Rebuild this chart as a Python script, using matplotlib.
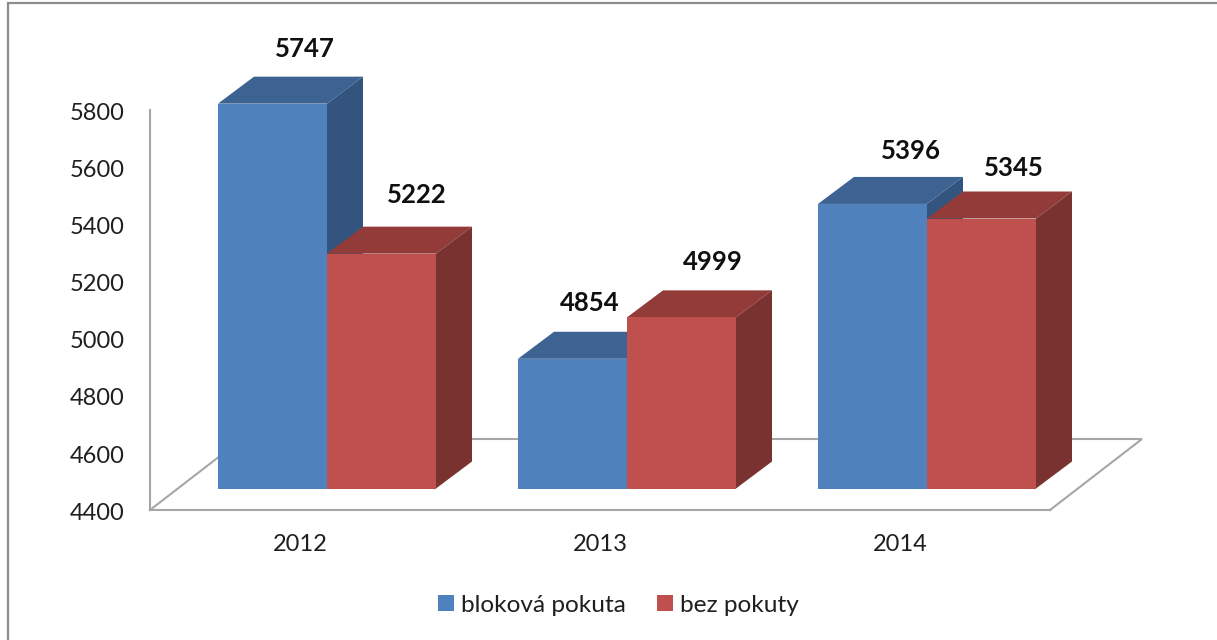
import matplotlib
matplotlib.use("Agg")
import matplotlib.pyplot as plt
from matplotlib.lines import Line2D
from matplotlib.patches import Patch, Polygon
from matplotlib.transforms import Affine2D

plt.rcParams['font.family'] = ['Lato', 'DejaVu Sans']

years = ["2012", "2013", "2014"]
blokova = [5747, 4854, 5396]
bez_pokuty = [5222, 4999, 5345]
series_names = ["bloková pokuta", "bez pokuty"]
y_ticks = [4400, 4600, 4800, 5000, 5200, 5400, 5600, 5800]
# label offsets from the top of the front face, in pixels
blok_label_off = [(32, 55), (17, 56), (38, 53)]
bez_label_off = [(35, 59), (31, 55), (32, 50)]

W, H = 1217, 640
fig = plt.figure(figsize=(W / 100, H / 100), dpi=100, facecolor="white")
ax = fig.add_axes([150 / W, 1 - 510 / H, 900 / W, 400 / H])
ax.set_xlim(-0.5, 2.5)
ax.set_ylim(4400, 5800)
ax.patch.set_visible(False)

GRAY = "#a6a6a6"
TEXT = "#1f1f1f"
for s in ("top", "right"):
    ax.spines[s].set_visible(False)
for s in ("left", "bottom"):
    ax.spines[s].set_color(GRAY)
    ax.spines[s].set_linewidth(1.5)
ax.set_xticks(range(len(years)), years)
ax.set_yticks(y_ticks)
ax.tick_params(axis="y", length=0, pad=18.5, labelsize=17, labelcolor=TEXT)
ax.tick_params(axis="x", length=0, pad=17.5, labelsize=17, labelcolor=TEXT)
for t in ax.get_yticklabels():
    t.set_transform(t.get_transform() + Affine2D().translate(0, -1.2))

px_x = 3 / 900          # data units per pixel
px_y = 1400 / 400
floor_dx, floor_dy = 92 * px_x, 71 * px_y
ax.plot([2.5, 2.5 + floor_dx, -0.5 + floor_dx], [4400, 4400 + floor_dy, 4400 + floor_dy],
        color=GRAY, lw=1.5, clip_on=False, zorder=1, solid_joinstyle="miter")
ax.plot([-0.5, -0.5 + floor_dx], [4400, 4400 + floor_dy],
        color=GRAY, lw=1.5, clip_on=False, zorder=1)

shift = ax.transData + Affine2D().translate(27, 21.5)
bar_w = 109 * px_x
dep_x, dep_y = 36 * px_x, 27 * px_y


def box(x0, value, front, top, side, z):
    x1 = x0 + bar_w
    base = 4400
    ax.bar(x0, value - base, bar_w, bottom=base, align="edge", color=front, linewidth=0,
           transform=shift, clip_on=False, zorder=z + 0.2)
    ax.add_patch(Polygon([(x0, value), (x1, value), (x1 + dep_x, value + dep_y), (x0 + dep_x, value + dep_y)],
                         facecolor=top, edgecolor="none", transform=shift, clip_on=False, zorder=z))
    ax.add_patch(Polygon([(x1, base), (x1 + dep_x, base + dep_y), (x1 + dep_x, value + dep_y), (x1, value)],
                         facecolor=side, edgecolor="none", transform=shift, clip_on=False, zorder=z + 0.1))


def label(x, value, off):
    ax.annotate(str(value), xy=(x, value), xycoords=shift, xytext=(off[0] * 0.72, off[1] * 0.72),
                textcoords="offset points", ha="center", va="center", fontsize=18.5,
                fontweight="bold", color="#101010", annotation_clip=False, zorder=20)


BLUE = ("#4f81bd", "#3c6391", "#32547e")
RED = ("#c0504d", "#923b39", "#7a3230")
for i in range(len(years)):
    box(i - bar_w, blokova[i], *BLUE, z=3 + i)
    box(i, bez_pokuty[i], *RED, z=3.5 + i)
    label(i - bar_w / 2, blokova[i], blok_label_off[i])
    label(i + bar_w / 2, bez_pokuty[i], bez_label_off[i])

handles = [Patch(facecolor=BLUE[0], label=series_names[0]), Patch(facecolor=RED[0], label=series_names[1])]
fig.legend(handles=handles, loc="center", bbox_to_anchor=(618.5 / W, 1 - 605 / H), ncol=2, frameon=False,
           fontsize=17.6, labelcolor=TEXT, handlelength=0.62, handleheight=0.62, handletextpad=0.29,
           columnspacing=1.3, borderpad=0)

BORDER = "#8c8c8c"
fig.add_artist(Line2D([8 / W, 8 / W, 1], [0, 1 - 3 / H, 1 - 3 / H], color=BORDER, lw=1.6,
                      transform=fig.transFigure, solid_joinstyle="miter"))

fig.savefig("out.png", dpi=100, facecolor="white")
